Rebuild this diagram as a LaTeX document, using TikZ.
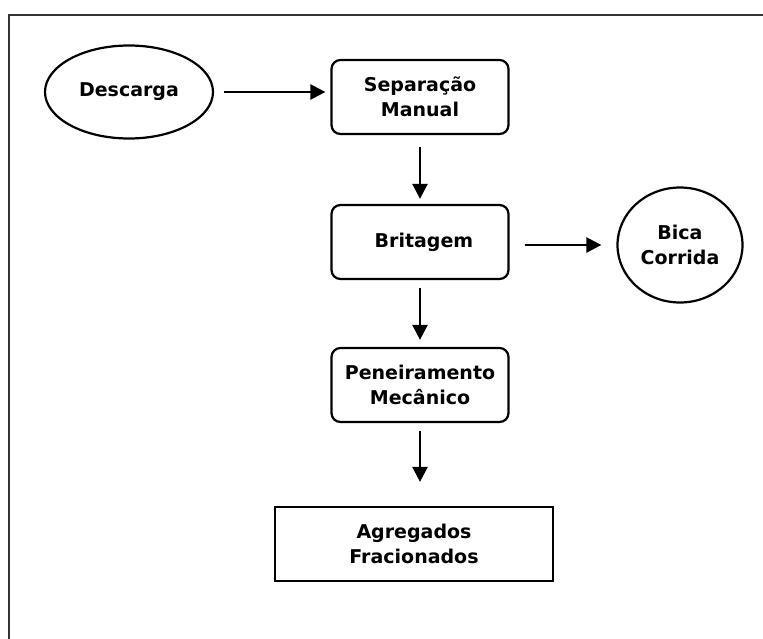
\documentclass[tikz,border=0pt]{standalone}
\usepackage{fontspec}
\setmainfont{DejaVu Sans}
\usetikzlibrary{shapes.geometric,arrows.meta}

\begin{document}
\begin{tikzpicture}[x=1pt, y=-1pt, font=\fontsize{19}{25}\selectfont\bfseries]
  \tikzstyle{stage} = [rectangle, draw, line width=2.2pt, rounded corners=9pt, align=center, minimum width=177pt, minimum height=74pt]
  \tikzstyle{terminal} = [ellipse, draw, line width=2.2pt, align=center]
  \tikzstyle{product} = [rectangle, draw, line width=2.2pt, align=center, minimum width=278pt, minimum height=74pt]
  \tikzstyle{arrow} = [line width=2.4pt, -{Triangle[length=15pt,width=15pt]}, shorten <=10pt, shorten >=5pt]

  \useasboundingbox (0,0) rectangle (763,639);

  % moldura
  \draw [line width=2.2pt, black!80] (763,15) -- (9,15) -- (9,639);

  % entrada
  \node [terminal, minimum width=168pt, minimum height=93pt] (descarga) at (129,92) {Descarga};

  % etapas
  \node [stage] (separacao) at (420,97) {Separação\\Manual};
  \node [stage] (britagem) at (420,242) {\hspace*{8pt}Britagem};
  \node [stage] (peneiramento) at (420,385) {Peneiramento\\Mecânico};

  % saidas
  \node [terminal, minimum width=125pt, minimum height=115pt] (bica) at (680,245) {Bica\\Corrida};
  \node [product] (agregados) at (414,544) {Agregados\\Fracionados};

  % setas
  \draw [arrow] (descarga.east |- 0,92) -- (separacao.west |- 0,92);
  \draw [arrow, shorten <=12pt] (separacao) -- (britagem);
  \draw [arrow, shorten <=15pt, shorten >=15pt] (britagem.east |- bica.west) -- (bica.west);
  \draw [arrow, shorten <=8pt, shorten >=7pt] (britagem) -- (peneiramento);
  \draw [arrow, shorten <=8pt, shorten >=24pt] (peneiramento) -- (peneiramento |- agregados.north);

\end{tikzpicture}
\end{document}
